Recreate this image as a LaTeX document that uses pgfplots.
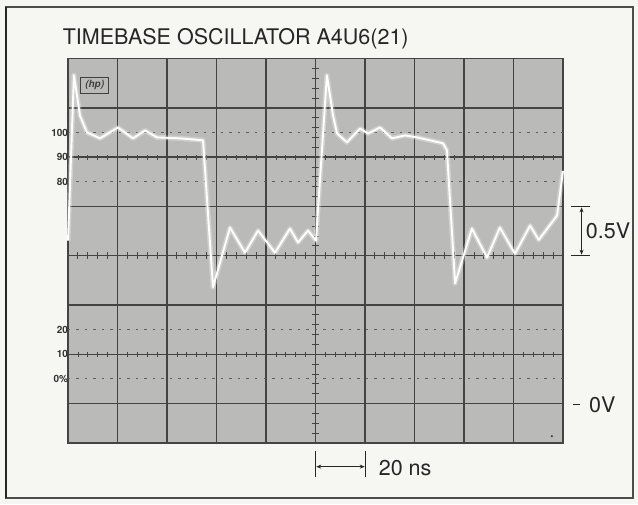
\documentclass[border=0pt]{standalone}
\usepackage{pgfplots}
\usepackage{pgfplotstable}
\pgfplotsset{compat=1.18}
\usepackage{fontspec}
\setmainfont{TeX Gyre Heros}
\usetikzlibrary{arrows.meta}
\definecolor{scope}{RGB}{186,186,184}
\definecolor{paper}{RGB}{246,246,243}
\definecolor{gridc}{RGB}{68,68,68}
\definecolor{levc}{RGB}{95,95,95}
\pgfplotstableread{
x y
0 1.653
2.4 3.33
4.85 2.92
7.68 2.75
12.93 2.69
20.2 2.80
26.26 2.69
31.11 2.77
35.96 2.70
45.25 2.69
54.55 2.67
58.59 1.18
65.45 1.785
71.52 1.53
76.77 1.755
83.64 1.53
89.70 1.775
92.93 1.633
96.97 1.755
100.2 1.653
104.6 3.33
107.1 2.92
108.7 2.74
112.7 2.65
118.0 2.79
121.2 2.74
126.1 2.80
130.9 2.69
136.2 2.72
141.0 2.70
151.5 2.64
153.1 2.57
156.4 1.22
163.2 1.775
169.3 1.48
174.5 1.785
180.6 1.52
186.7 1.805
190.2 1.66
197.6 1.907
200 2.36
}\trace
\begin{document}
\begin{tikzpicture}
\useasboundingbox (-68pt,-61pt) rectangle (570pt,443pt);
\fill[paper] (-68pt,-61pt) rectangle (570pt,443pt);
\draw[black!70, line width=1.4pt] (-62pt,-55pt) rectangle (565pt,436pt);
\draw[black!85, line width=2.2pt] (-62pt,-55pt) -- (-62pt,436pt);
\begin{axis}[
  at={(0pt,0pt)}, anchor=south west,
  scale only axis, width=495pt, height=384.5pt,
  xmin=0, xmax=200, ymin=-0.4, ymax=3.5,
  xtick={0,20,...,200}, ytick={0,0.5,1,1.5,2,2.5,3,3.5},
  xticklabels={}, yticklabels={},
  major tick length=0pt,
  grid=major,
  major grid style={gridc, line width=1.5pt},
  axis line style={gridc, line width=1.5pt},
  axis background/.style={fill=scope},
  clip=false,
]
% level lines 100, 80, 20, 0 %
\draw[levc, line width=0.9pt, dash pattern=on 2.5pt off 6pt] (axis cs:0,2.75) -- (axis cs:200,2.75);
\draw[levc, line width=0.9pt, dash pattern=on 2.5pt off 6pt] (axis cs:0,2.25) -- (axis cs:200,2.25);
\draw[levc, line width=0.9pt, dash pattern=on 2.5pt off 6pt] (axis cs:0,0.75) -- (axis cs:200,0.75);
\draw[levc, line width=0.9pt, dash pattern=on 2.5pt off 6pt] (axis cs:0,0.25) -- (axis cs:200,0.25);
% minor ticks on centre, 90 and 10 lines
\pgfplotsinvokeforeach{4,8,...,196}{
  \draw[gridc, line width=0.8pt] (axis cs:#1,1.5) ++(0pt,-3.5pt) -- ++(0pt,7pt);
  \draw[gridc, line width=0.7pt] (axis cs:#1,2.5) ++(0pt,-2.5pt) -- ++(0pt,5pt);
  \draw[gridc, line width=0.7pt] (axis cs:#1,0.5) ++(0pt,-2.5pt) -- ++(0pt,5pt);
}
\pgfplotsinvokeforeach{-0.3,-0.2,...,3.4}{
  \draw[gridc, line width=0.8pt] (axis cs:100,#1) ++(-3.5pt,0pt) -- ++(7pt,0pt);
}
% percent labels
\begin{scope}[font=\bfseries\fontsize{10}{10}\selectfont, text=black!80, inner sep=0.5pt]
\node[anchor=east] at (axis cs:0.3,2.75) {100};
\node[anchor=east] at (axis cs:0.3,2.5) {90};
\node[anchor=east] at (axis cs:0.3,2.25) {80};
\node[anchor=east] at (axis cs:0.3,0.75) {20};
\node[anchor=east] at (axis cs:0.3,0.5) {10};
\node[anchor=east] at (axis cs:0.3,0.25) {0\%};
\end{scope}
% hp logo
\node[draw=black!75, line width=0.9pt, inner sep=1.5pt, minimum width=28pt, minimum height=16pt,
  font=\bfseries\itshape\fontsize{10}{10}\selectfont, text=black!75] at (axis cs:10.8,3.23) {(hp)};
% trace
\addplot[white, line width=5pt, opacity=0.3, line join=round] table {\trace};
\addplot[white, line width=1.9pt, line join=round] table {\trace};
% title
\node[anchor=west, inner sep=0pt, font=\fontsize{21.5}{24}\selectfont, text=black!85] at (axis cs:-2.2,3.70) {TIMEBASE OSCILLATOR A4U6(21)};
% 0.5 V marker
\draw[black!85, line width=1.1pt] (axis cs:203.2,2.0) -- (axis cs:210.9,2.0);
\draw[black!85, line width=1.1pt] (axis cs:203.2,1.5) -- (axis cs:210.9,1.5);
\draw[black!85, line width=1pt, {Stealth[length=5pt,width=4pt]}-{Stealth[length=5pt,width=4pt]}] (axis cs:207.5,1.99) -- (axis cs:207.5,1.51);
\node[anchor=west, inner sep=0pt, font=\fontsize{21.5}{24}\selectfont, text=black!85] at (axis cs:209.2,1.75) {0.5V};
% 0 V marker
\draw[black!85, line width=1.1pt] (axis cs:204.0,-0.01) -- (axis cs:206.9,-0.01);
\node[anchor=west, inner sep=0pt, font=\fontsize{21.5}{24}\selectfont, text=black!85] at (axis cs:210.5,-0.015) {0V};
% 20 ns marker
\draw[black!85, line width=1.1pt] (axis cs:100,-0.48) -- (axis cs:100,-0.74);
\draw[black!85, line width=1.1pt] (axis cs:120.2,-0.48) -- (axis cs:120.2,-0.74);
\draw[black!85, line width=1pt, {Stealth[length=5pt,width=4pt]}-{Stealth[length=5pt,width=4pt]}] (axis cs:100.3,-0.64) -- (axis cs:119.9,-0.64);
\node[anchor=west, inner sep=0pt, font=\fontsize{21.5}{24}\selectfont, text=black!85] at (axis cs:125.5,-0.65) {20 ns};
% small dot
\fill[black!80] (axis cs:195.5,-0.33) circle (1.2pt);
\end{axis}
\end{tikzpicture}
\end{document}
